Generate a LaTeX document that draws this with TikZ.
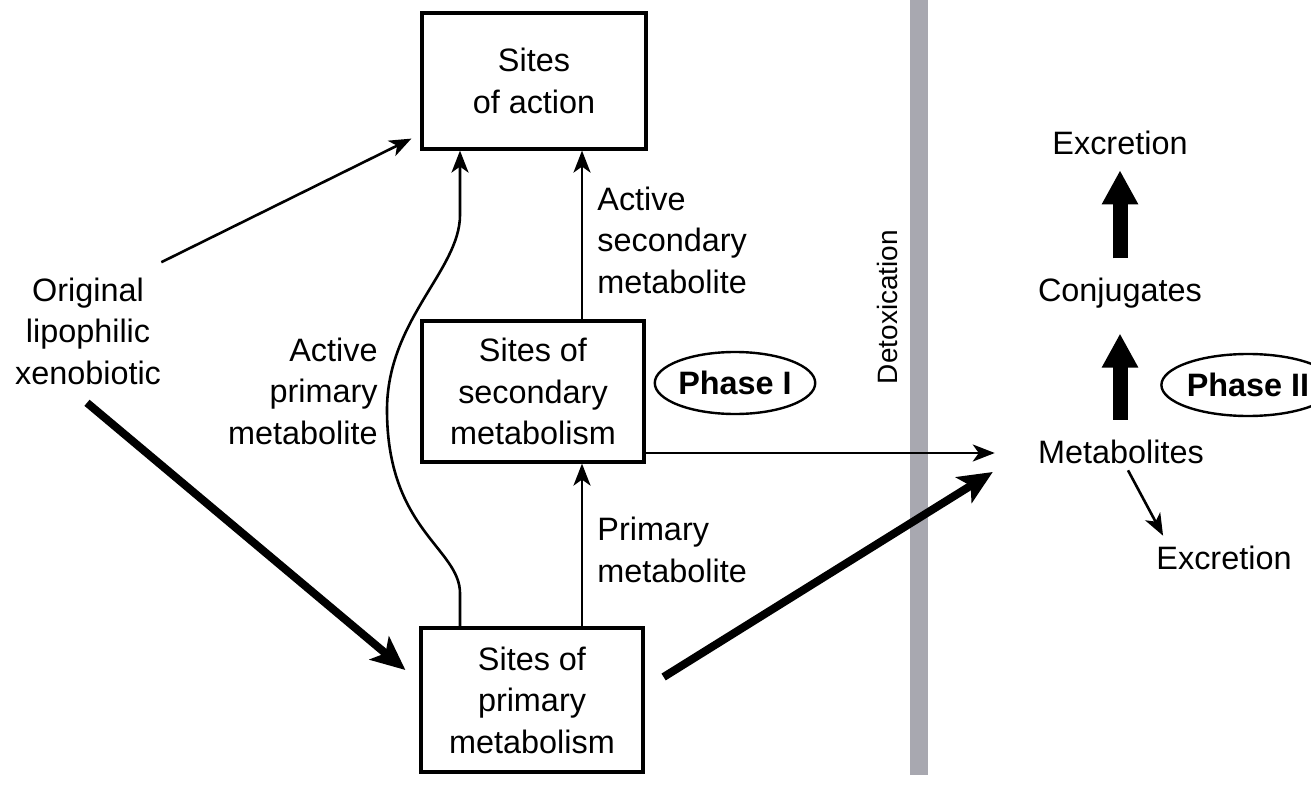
\documentclass[tikz,border=0pt]{standalone}
\usepackage{fontspec}
\setmainfont{Liberation Sans}
\usetikzlibrary{arrows.meta,calc,shapes.geometric}
\definecolor{barcol}{RGB}{168,168,176}
\begin{document}
\begin{tikzpicture}[x=0.5pt,y=-0.5pt,
  every node/.style={font=\fontsize{16.2}{20.75}\selectfont, inner sep=0pt, text=black},
  box/.style={draw, line width=1.6pt, minimum width=111pt, align=center},
  thinarr/.style={line width=1.3pt, -{Stealth[length=11pt,width=8.5pt,inset=3pt]}},
  thickarr/.style={line width=4pt, -{Stealth[length=17pt,width=15pt,inset=4pt]}},
  fatarr/.style={line width=7.5pt, -{Triangle[length=17pt,width=17pt]}},
  phase/.style={draw, ellipse, line width=1.2pt, font=\bfseries\fontsize{16.2}{20}\selectfont, minimum height=31pt}
]
\clip (0,0) rectangle (1311,786);
% detoxication barrier
\fill[barcol] (910,0) rectangle (928,775);
\node[rotate=90, font=\fontsize{14}{16}\selectfont] (detox) at (887,307) {Detoxication};

% boxes
\node[box, minimum width=112pt, minimum height=68pt] (act) at (534,81) {Sites\\of action};
\node[box, minimum height=70.5pt] (sec) at (533,391.5) {Sites of\\secondary\\metabolism};
\node[box, minimum height=72pt] (prim) at (532,700) {Sites of\\primary\\metabolism};

% labels
\node[align=center] (orig) at (88,331) {Original\\lipophilic\\xenobiotic};
\node[align=right, anchor=east] (actprim) at (378,391) {Active\\primary\\metabolite};
\node[align=left, anchor=west] (actsec) at (597,240) {Active\\secondary\\metabolite};
\node[align=left, anchor=west] (primmet) at (597,550) {Primary\\metabolite};
\node[phase, minimum width=78pt] (ph1) at (735,383) {Phase I};
\node[phase, minimum width=83pt] (ph2) at (1248,385) {Phase II};
\node (exc1) at (1120,143) {Excretion};
\node (conj) at (1120,293) {Conjugates};
\node (met) at (1121,452) {Metabolites};
\node (exc2) at (1224,558) {Excretion};

% connectors
\draw[thinarr] ($(orig.north east)+(0,-15)$) -- ($(act.south west)+(-9,-12)$);
\draw[thickarr] ($(orig.south)+(-1,18)$) -- ($(prim.west)+(-14,-30)$);
\draw[thinarr] ($(prim.north)+(50,0)$) -- ($(sec.south)+(49,0)$);
\draw[thinarr] ($(sec.north)+(49,0)$) -- ($(act.south)+(48,0)$);
\coordinate (bulge) at (387,410);
\coordinate (upper) at (460,215);
\draw[thinarr] ($(prim.north)+(-72,0)$) -- ++(0,-33)
   .. controls +(0,-45) and +(0,120) .. (bulge)
   .. controls +(0,-90) and +(0,55) .. (upper)
   -- ($(act.south)+(-74,0)$);
\draw[thinarr] ($(sec.east)+(0,61.5)$) -- ($(met.west)+(-43,1)$);
\draw[thickarr] ($(prim.east)+(19,-23)$) -- ($(met.west)+(-45,20)$);
\draw[fatarr] ($(met.north)+(-1,-20)$) -- ($(conj.south)+(0,25)$);
\draw[fatarr] ($(conj.north)+(0,-19)$) -- ($(exc1.south)+(0,15)$);
\draw[thinarr] ($(met.south)+(7,6)$) -- ($(exc2.north west)+(7,-10)$);
\end{tikzpicture}
\end{document}
